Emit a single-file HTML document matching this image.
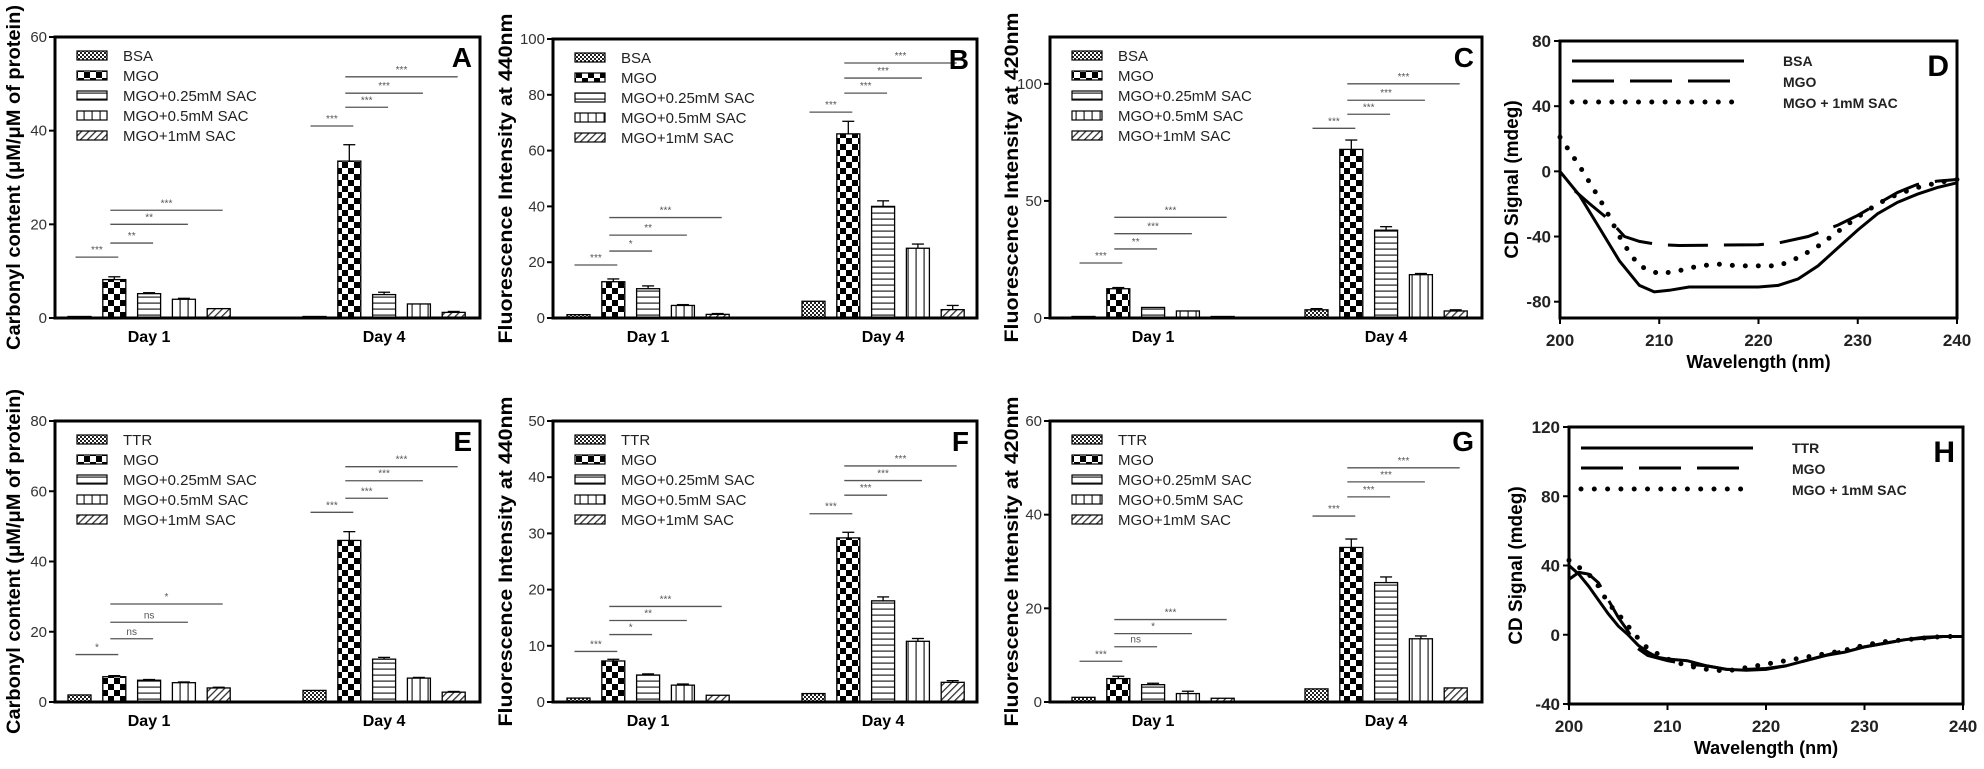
<!DOCTYPE html>
<html><head><meta charset="utf-8"><style>
html,body{margin:0;padding:0;background:#fff;}
svg{display:block;font-family:"Liberation Sans",Arial,sans-serif;}
</style></head><body>
<svg id="s" width="1984" height="769" viewBox="0 0 1984 769" xmlns="http://www.w3.org/2000/svg">
<defs>
<pattern id="pFine" width="4" height="4" patternUnits="userSpaceOnUse"><rect width="4" height="4" fill="#fff"/><rect width="2" height="2" fill="#222"/><rect x="2" y="2" width="2" height="2" fill="#222"/></pattern>
<pattern id="pChk" width="12" height="12" patternUnits="userSpaceOnUse"><rect width="12" height="12" fill="#fff"/><rect width="6" height="6" fill="#000"/><rect x="6" y="6" width="6" height="6" fill="#000"/></pattern>
<pattern id="pH" width="6" height="6" patternUnits="userSpaceOnUse"><rect width="6" height="6" fill="#fff"/><rect y="2.5" width="6" height="1.2" fill="#222"/></pattern>
<pattern id="pV" width="8" height="8" patternUnits="userSpaceOnUse"><rect width="8" height="8" fill="#fff"/><rect x="3.5" width="1.2" height="8" fill="#222"/></pattern>
<pattern id="pD" width="5" height="5" patternUnits="userSpaceOnUse" patternTransform="rotate(45)"><rect width="5" height="5" fill="#fff"/><rect width="1.3" height="5" fill="#333"/></pattern>
</defs>
</svg>
<script>
var S=document.getElementById('s'),NS='http://www.w3.org/2000/svg';
function el(t,a,txt){var e=document.createElementNS(NS,t);for(var k in a)e.setAttribute(k,a[k]);if(txt!==undefined)e.textContent=txt;S.appendChild(e);return e;}
var pats=['url(#pFine)','url(#pChk)','url(#pH)','url(#pV)','url(#pD)'];
function bars(o){
 var L=o.L,R=o.R,T=o.T,B=o.B,k=(B-T)/o.max;
 function Y(v){return B-v*k;}
 // y title
 var cy=(T+B)/2;
 el('text',{x:o.tx,y:cy,transform:'rotate(-90 '+o.tx+' '+cy+')','text-anchor':'middle','font-size':19,'font-weight':'bold',textLength:o.tl,lengthAdjust:'spacingAndGlyphs'},o.title);
 // ticks
 o.ticks.forEach(function(t){var y=Y(t);el('line',{x1:L-6,y1:y,x2:L,y2:y,stroke:'#000','stroke-width':2});el('text',{x:L-8,y:y+5,'text-anchor':'end','font-size':15,fill:'#333'},String(t));});
 // bars
 var offs=[o.o1,o.o4];
 for(var g=0;g<2;g++){for(var i=0;i<5;i++){var x=L+offs[g]+i*34.8,v=o.v[g][i],e=o.e[g][i];var h=Math.max(v*k,1.5);
  el('rect',{x:x,y:B-h,width:23,height:h,fill:pats[i],stroke:'#000','stroke-width':1.3});
  if(e>0){var cx=x+11.5;el('line',{x1:cx,y1:B-h,x2:cx,y2:Y(v+e),stroke:'#000','stroke-width':1.3});el('line',{x1:cx-6,y1:Y(v+e),x2:cx+6,y2:Y(v+e),stroke:'#000','stroke-width':1.3});}
 }
  var gc=L+offs[g]+2*34.8+11.5;
  el('text',{x:gc,y:B+24,'text-anchor':'middle','font-size':16,'font-weight':'bold'},g?'Day 4':'Day 1');
  var pairs=[[0,1],[1,2],[1,3],[1,4]];
  pairs.forEach(function(p,j){var x1=L+offs[g]+p[0]*34.8+11.5,x2=L+offs[g]+p[1]*34.8+11.5,y=Y(o.s[g][j]);
   el('line',{x1:x1-4,y1:y,x2:x2+4,y2:y,stroke:'#555','stroke-width':1.3});
   el('text',{x:(x1+x2)/2,y:y-4,'text-anchor':'middle','font-size':10,fill:'#555'},o.sl[g][j]);});
 }
 // box
 el('rect',{x:L,y:T,width:R-L,height:B-T,fill:'none',stroke:'#000','stroke-width':3});
 // legend
 var names=[o.p,'MGO','MGO+0.25mM SAC','MGO+0.5mM SAC','MGO+1mM SAC'];
 names.forEach(function(n,i){var y=T+14+i*20;el('rect',{x:L+22,y:y,width:30,height:9,fill:pats[i],stroke:'#000','stroke-width':1.2});el('text',{x:L+68,y:y+10,'font-size':15,fill:'#222'},n);});
 el('text',{x:R-8,y:T+30,'text-anchor':'end','font-size':28,'font-weight':'bold'},o.letter);
}
var st3=['***','***','***','***'];
bars({L:55,R:480,T:37,B:318,max:60,ticks:[0,20,40,60],tx:20,tl:345,title:'Carbonyl content (\u03bcM/\u03bcM of protein)',o1:13,o4:248,p:'BSA',letter:'A',
 v:[[0,8.2,5.2,4,2],[0,33.5,5,3,1.2]],e:[[0,0.6,0.2,0.2,0],[0,3.5,0.5,0,0.2]],
 s:[[13,16,20,23],[41,45,48,51.5]],sl:[['***','**','**','***'],st3]});
bars({L:553,R:977,T:39,B:318,max:100,ticks:[0,20,40,60,80,100],tx:512,tl:330,title:'Fluorescence Intensity at 440nm',o1:14,o4:249,p:'BSA',letter:'B',
 v:[[1.2,13,10.5,4.5,1.3],[6,66,40,25,3]],e:[[0,1,1,0.3,0.3],[0,4.5,2,1.5,1.5]],
 s:[[19,24,29.7,36],[73.8,80.6,86,91.4]],sl:[['***','*','**','***'],st3]});
bars({L:1050,R:1482,T:37,B:318,max:120,ticks:[0,50,100],tx:1018,tl:330,title:'Fluorescence Intensity at 420nm',o1:22,o4:255,p:'BSA',letter:'C',
 v:[[0.5,12.5,4.5,3,0.5],[3.5,72,37.5,18.5,3]],e:[[0,0.5,0,0,0],[0.5,4,1.5,0.5,0.5]],
 s:[[23.5,29.5,36,43],[81,87,93,100]],sl:[['***','**','***','***'],st3]});
bars({L:55,R:480,T:421,B:702,max:80,ticks:[0,20,40,60,80],tx:20,tl:345,title:'Carbonyl content (\u03bcM/\u03bcM of protein)',o1:13,o4:248,p:'TTR',letter:'E',
 v:[[2,7.2,6.2,5.5,4],[3.3,46,12.2,6.8,2.8]],e:[[0,0.3,0.2,0.2,0.2],[0,2.5,0.5,0.2,0.2]],
 s:[[13.5,18,22.7,27.9],[54,58,63,67]],sl:[['*','ns','ns','*'],st3]});
bars({L:553,R:977,T:421,B:702,max:50,ticks:[0,10,20,30,40,50],tx:512,tl:330,title:'Fluorescence Intensity at 440nm',o1:14,o4:249,p:'TTR',letter:'F',
 v:[[0.7,7.3,4.8,3,1.2],[1.5,29.2,18,10.8,3.5]],e:[[0,0.3,0.2,0.2,0],[0,1,0.7,0.5,0.3]],
 s:[[9,12,14.5,17],[33.5,36.8,39.4,42]],sl:[['***','*','**','***'],st3]});
bars({L:1050,R:1482,T:421,B:702,max:60,ticks:[0,20,40,60],tx:1018,tl:330,title:'Fluorescence Intensity at 420nm',o1:22,o4:255,p:'TTR',letter:'G',
 v:[[1,5,3.7,1.8,0.8],[2.8,33,25.5,13.5,3]],e:[[0,0.5,0.3,0.5,0],[0,1.8,1.2,0.6,0]],
 s:[[8.7,11.8,14.6,17.6],[39.7,43.8,47,50]],sl:[['***','ns','*','***'],st3]});

function cd(o){
 var L=o.L,R=o.R,T=o.T,B=o.B,ky=(B-T)/(o.ymax-o.ymin);
 function X(w){return L+(w-200)/40*(R-L);} function Y(v){return B-(v-o.ymin)*ky;}
 var cy=(T+B)/2;
 el('text',{x:o.tx,y:cy,transform:'rotate(-90 '+o.tx+' '+cy+')','text-anchor':'middle','font-size':19,'font-weight':'bold'},'CD Signal (mdeg)');
 o.yt.forEach(function(t){var y=Y(t);el('line',{x1:L-6,y1:y,x2:L,y2:y,stroke:'#000','stroke-width':2});el('text',{x:L-9,y:y+6,'text-anchor':'end','font-size':17,'font-weight':'bold',fill:'#222'},String(t));});
 [200,210,220,230,240].forEach(function(w){var x=X(w);el('line',{x1:x,y1:B,x2:x,y2:B+6,stroke:'#000','stroke-width':2});el('text',{x:x,y:B+28,'text-anchor':'middle','font-size':17,'font-weight':'bold',fill:'#222'},String(w));});
 el('text',{x:(L+R)/2,y:B+50,'text-anchor':'middle','font-size':18,'font-weight':'bold'},'Wavelength (nm)');
 function path(pts){return pts.map(function(p,i){return (i?'L':'M')+X(p[0]).toFixed(1)+' '+Y(p[1]).toFixed(1);}).join(' ');}
 el('path',{d:path(o.a),fill:'none',stroke:'#000','stroke-width':3});
 el('path',{d:path(o.b),fill:'none',stroke:'#000','stroke-width':3,'stroke-dasharray':'40 16'});
 el('path',{d:path(o.c),fill:'none',stroke:'#000','stroke-width':5,'stroke-dasharray':'0 13','stroke-linecap':'round'});
 el('rect',{x:L,y:T,width:R-L,height:B-T,fill:'none',stroke:'#000','stroke-width':3});
 var lx=L+12,ly=o.ly;
 el('line',{x1:lx,y1:ly,x2:lx+172,y2:ly,stroke:'#000','stroke-width':3});
 el('line',{x1:lx,y1:ly+20,x2:lx+160,y2:ly+20,stroke:'#000','stroke-width':3,'stroke-dasharray':'42 16'});
 el('line',{x1:lx,y1:ly+41,x2:lx+165,y2:ly+41,stroke:'#000','stroke-width':5,'stroke-dasharray':'0 13.3','stroke-linecap':'round'});
 [o.p,'MGO','MGO + 1mM SAC'].forEach(function(n,i){el('text',{x:L+223,y:ly+[5,26,47][i],'font-size':14,'font-weight':'bold',fill:'#222'},n);});
 el('text',{x:R-8,y:T+35,'text-anchor':'end','font-size':30,'font-weight':'bold'},o.letter);
}
cd({L:1560,R:1957,T:41,B:318,ymin:-90,ymax:80,yt:[80,40,0,-40,-80],tx:1518,ly:61,p:'BSA',letter:'D',
 a:[[200,0],[202,-15],[204,-35],[206,-55],[208,-70],[209.5,-74],[211,-73],[213,-71],[215,-71],[220,-71],[222,-70],[224,-66],[226,-58],[228,-47],[230,-36],[232,-26],[234,-19],[236,-14],[238,-10],[240,-7]],
 b:[[201.5,-12],[203,-20],[205,-30],[206.5,-40],[208,-43],[210,-45],[212,-45.5],[220,-45],[222,-44],[225,-40],[228,-33],[230,-27],[232,-20],[234,-13],[236,-8],[238,-6],[240,-5]],
 c:[[200,21],[201,12],[202,3],[203,-7],[204,-17],[205,-28],[206,-40],[207,-50],[208,-58],[210,-63],[212,-61],[214,-58],[216,-57],[218,-58],[220,-58],[222,-58],[224,-53],[226,-46],[228,-37],[230,-28],[232,-20],[234,-14],[236,-10],[238,-7],[240,-5]]});
cd({L:1569,R:1963,T:427,B:704,ymin:-40,ymax:120,yt:[120,80,40,0,-40],tx:1522,ly:448,p:'TTR',letter:'H',
 a:[[200,40],[201,35],[202,28],[203,20],[204,12],[205,5],[206,0],[207,-6],[208,-10],[209,-13],[210,-14],[212,-15],[214,-18],[216,-20],[218,-20.5],[220,-20],[222,-18],[224,-15],[226,-12],[228,-10],[230,-7],[232,-5],[234,-3],[236,-1.5],[238,-1],[240,-1]],
 b:[[200,32],[201,36],[202,35],[203,30],[204,20],[205,10],[206,2],[207,-8],[208,-12],[210,-15],[212,-17],[214,-18],[216,-20],[218,-20],[220,-19.5],[222,-18],[224,-15],[226,-12],[228,-9],[230,-7],[232,-5],[234,-3],[236,-2],[238,-1],[240,-1]],
 c:[[200,43],[201,39],[202,35],[203,28],[204,18],[205,12],[206,5],[207,-2],[208,-8],[210,-14],[212,-18],[214,-20],[216,-21],[218,-19],[220,-17],[222,-15],[224,-13],[226,-11],[228,-9],[230,-6],[232,-4],[234,-3],[236,-2],[238,-1],[240,-1]]});
</script>
</body></html>
